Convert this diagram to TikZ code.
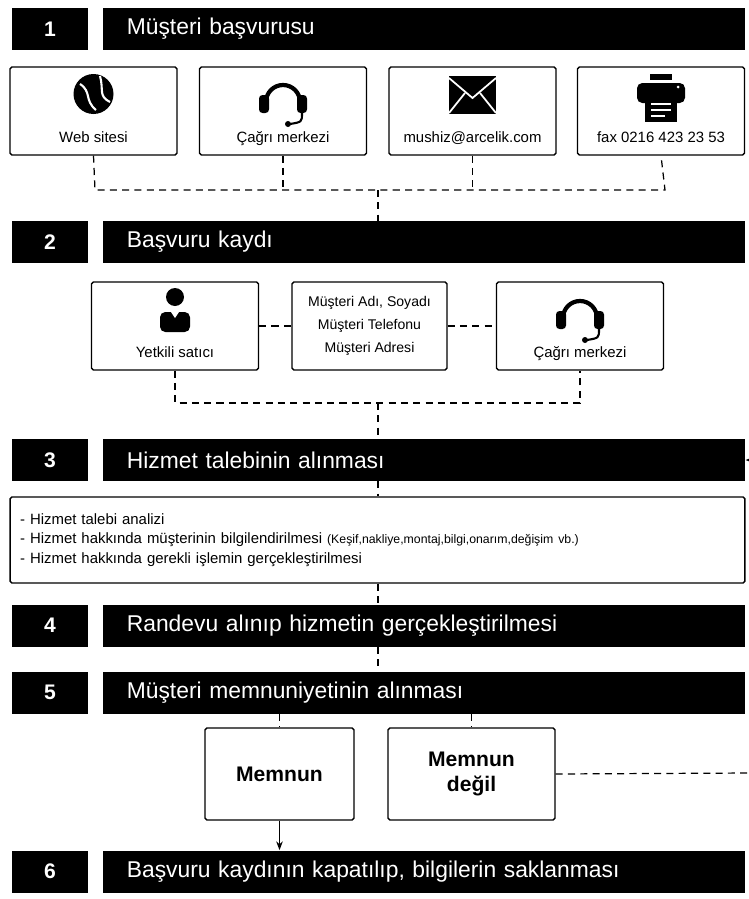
\documentclass[tikz,border=0pt]{standalone}
\usepackage{fontspec}
\setmainfont{Liberation Sans}
\usetikzlibrary{arrows.meta}

\tikzset{
  numbox/.style={fill=black, text=white, font=\fontsize{12}{14}\selectfont\bfseries, minimum width=1.52cm, minimum height=0.84cm, inner sep=0pt},
  titlebar/.style={fill=black, text=white, font=\fontsize{13}{15}\selectfont, minimum width=12.84cm, minimum height=0.84cm, anchor=west, text width=12.3cm, align=left, inner sep=0pt},
  chanbox/.style={draw=black, line width=0.8pt, rounded corners=1pt, minimum width=3.34cm, minimum height=1.76cm, inner sep=0pt},
  chanlabel/.style={font=\fontsize{8.5}{10}\selectfont, anchor=base, inner sep=0pt},
  dashline/.style={dashed, line width=0.7pt, dash pattern=on 4pt off 3pt},
  answerbox/.style={draw=black, line width=0.8pt, rounded corners=1pt, minimum height=1.84cm, font=\fontsize{12}{14}\selectfont\bfseries, align=center, inner sep=0pt}
}

\begin{document}
\begin{tikzpicture}[x=0.02cm,y=-0.02cm]
  \useasboundingbox (0,0) rectangle (748,899);

  % step 1
  \node[numbox] (n1) at (50,29) {1};
  \node[titlebar] (t1) at (103,29) {\hspace{0.2cm}Müşteri başvurusu};

  \node[chanbox] (c1) at (93.5,111) {};
  \node[chanbox] (c2) at (283,111) {};
  \node[chanbox] (c3) at (472.5,111) {};
  \node[chanbox] (c4) at (661,111) {};
  \node[chanlabel] (l1) at ([yshift=0.26cm]c1.south) {Web sitesi};
  \node[chanlabel] (l2) at ([yshift=0.26cm]c2.south) {Çağrı merkezi};
  \node[chanlabel] (l3) at ([yshift=0.26cm]c3.south) {mushiz@arcelik.com};
  \node[chanlabel] (l4) at ([yshift=0.26cm]c4.south) {fax 0216 423 23 53};

  % icons
  \fill[black] (93.5,94) circle (20);
  \draw[white, line width=1.2pt] (80,84) .. controls (92,92) and (84,100) .. (96,110);
  \draw[white, line width=1.2pt] (100,76) .. controls (104,90) and (98,96) .. (110,102);
  \draw[black, line width=2.4pt] (266,102) arc (180:360:17);
  \fill[black, rounded corners=2pt] (259,95) rectangle (269,113);
  \fill[black, rounded corners=2pt] (297,95) rectangle (307,113);
  \draw[black, line width=1.2pt] (302,113) .. controls (302,122) .. (290,124);
  \fill[black] (288,124) circle (3);
  \fill[black] (449,76) rectangle (496,114);
  \draw[white, line width=1pt] (449,78) -- (472.5,98) -- (496,78);
  \draw[white, line width=1pt] (449,113) -- (465,93);
  \draw[white, line width=1pt] (496,113) -- (480,93);
  \fill[black] (650,74) rectangle (672,80);
  \fill[black, rounded corners=3pt] (637,83) rectangle (685,103);
  \fill[white] (678,87) circle (1.5);
  \fill[black] (645,95) rectangle (677,122);
  \draw[white, line width=1pt] (651,104) -- (671,104) (651,110) -- (671,110) (651,116) -- (665,116);

  \coordinate (j1) at (95,190);
  \coordinate (j2) at (665,190);
  \coordinate (m1) at (378,190);
  \draw[dashline] (c1.south) -- (j1) -- (j2) -- (c4.south);
  \draw[dashline] (c2.south) -- (c2.south |- j1);
  \draw[dashline] (c3.south) -- (c3.south |- j1);

  % step 2
  \node[numbox] (n2) at (50,242) {2};
  \node[titlebar] (t2) at (103,242) {\hspace{0.2cm}Başvuru kaydı};
  \draw[dashline] (m1) -- (m1 |- t2.north);

  \node[chanbox] (s1) at (175,326) {};
  \node[chanbox, minimum width=3.1cm, font=\fontsize{8}{13}\selectfont, align=center] (s2) at (369.5,326) {Müşteri Adı, Soyadı\\Müşteri Telefonu\\Müşteri Adresi};
  \node[chanbox] (s3) at (580,326) {};
  \node[chanlabel] (k1) at ([yshift=0.26cm]s1.south) {Yetkili satıcı};
  \node[chanlabel] (k3) at ([yshift=0.26cm]s3.south) {Çağrı merkezi};

  \fill[black] (175,297) circle (9);
  \fill[black, rounded corners=3pt] (160,332) -- (160,312) -- (190,312) -- (190,332) -- cycle;
  \fill[white] (171,312) -- (175,318) -- (179,312) -- cycle;
  \draw[black, line width=2.4pt] (563,318) arc (180:360:17);
  \fill[black, rounded corners=2pt] (556,311) rectangle (566,329);
  \fill[black, rounded corners=2pt] (594,311) rectangle (604,329);
  \draw[black, line width=1.2pt] (599,329) .. controls (599,338) .. (587,340);
  \fill[black] (585,340) circle (3);

  \draw[dashline, line width=1.6pt] (s1) -- (s2);
  \draw[dashline] (s2) -- (s3);

  \coordinate (j3) at (175,403);
  \coordinate (j4) at (580,403);
  \coordinate (m2) at (378,403);
  \draw[dashline] (s1.south) -- (j3) -- (j4) -- (s3.south);

  % step 3
  \node[numbox] (n3) at (50,460) {3};
  \node[titlebar] (t3) at (103,460) {\hspace{0.2cm}Hizmet talebinin alınması};
  \draw[dashline] (m2) -- (m2 |- t3.north);

  \node[draw=black, line width=0.8pt, rounded corners=1pt, minimum width=14.7cm, minimum height=1.72cm, text width=14.3cm, align=left, font=\fontsize{8.5}{11}\selectfont, inner sep=0pt] (info) at (377.5,540)
    {- Hizmet talebi analizi\\
     - Hizmet hakkında müşterinin bilgilendirilmesi {\fontsize{7}{11}\selectfont(Keşif,nakliye,montaj,bilgi,onarım,değişim vb.)}\\
     - Hizmet hakkında gerekli işlemin gerçekleştirilmesi};
  \draw[dashline] (t3.south -| m2) -- (info.north -| m2);

  % step 4
  \node[numbox] (n4) at (50,625.5) {4};
  \node[titlebar] (t4) at (103,625.5) {\hspace{0.2cm}Randevu alınıp hizmetin gerçekleştirilmesi};
  \draw[dashline] (info.south -| m2) -- (t4.north -| m2);

  % step 5
  \node[numbox] (n5) at (50,692.5) {5};
  \node[titlebar] (t5) at (103,692.5) {\hspace{0.2cm}Müşteri memnuniyetinin alınması};
  \draw[dashline] (t4.south -| m2) -- (t5.north -| m2);

  \node[answerbox, minimum width=2.98cm] (yes) at (279.5,774) {Memnun};
  \node[answerbox, minimum width=3.34cm] (no) at (471.5,774) {Memnun\\değil};
  \draw[dashline] (t5.south -| yes) -- (yes.north);
  \draw[dashline] (t5.south -| no) -- (no.north);

  % back to step 3
  \coordinate (back) at (752,773);
  \coordinate (backup) at (752,460);
  \draw[dashline] (no.east) -- (back);
  \draw[-{Stealth[length=5pt]}, line width=0.7pt] (backup) -- (t3.east);

  % step 6
  \node[numbox] (n6) at (50,871.5) {6};
  \node[titlebar] (t6) at (103,871.5) {\hspace{0.2cm}Başvuru kaydının kapatılıp, bilgilerin saklanması};
  \draw[-{Stealth[length=5pt]}, line width=0.7pt] (yes.south) -- (t6.north -| yes);
\end{tikzpicture}
\end{document}
